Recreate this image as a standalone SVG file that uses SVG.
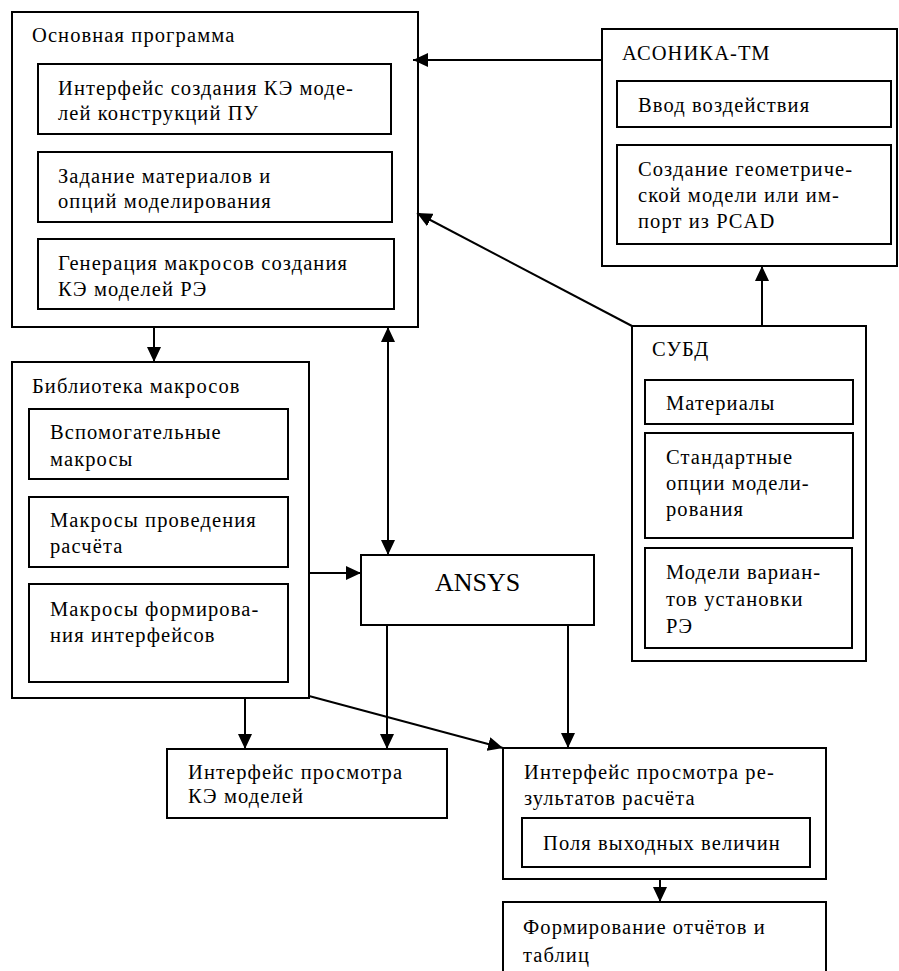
<svg xmlns="http://www.w3.org/2000/svg" width="899" height="971" viewBox="0 0 899 971" font-family="'Liberation Serif', 'Times New Roman', serif">
<defs>
<marker id="arr" markerUnits="userSpaceOnUse" markerWidth="16" markerHeight="14" refX="15" refY="7" orient="auto-start-reverse">
<path d="M0,0 L15,7 L0,14 z" fill="#000"/>
</marker>
<style>
rect{fill:#fff;stroke:#000;stroke-width:2}
text{font-family:'Liberation Serif','Times New Roman',serif;font-size:20.5px;letter-spacing:1.1px;fill:#000}
text.big{font-size:26px;letter-spacing:0}
#connectors line{stroke:#000;stroke-width:2;fill:none}
</style>
</defs>
<rect x="0" y="0" width="899" height="971" style="stroke:none"/>

<g id="main">
<rect x="12" y="12" width="406" height="315"/>
<text x="32" y="42">Основная программа</text>
<rect x="38" y="64" width="353" height="70"/>
<text x="58" y="95">Интерфейс создания КЭ моде-</text>
<text x="58" y="120">лей конструкций ПУ</text>
<rect x="38" y="152" width="354" height="70"/>
<text x="58" y="183">Задание материалов и</text>
<text x="58" y="208">опций моделирования</text>
<rect x="38" y="239" width="356" height="70"/>
<text x="58" y="270">Генерация макросов создания</text>
<text x="58" y="296">КЭ моделей РЭ</text>
</g>

<g id="asonika">
<rect x="602" y="29" width="295" height="237"/>
<text x="622" y="60">АСОНИКА-ТМ</text>
<rect x="617" y="81" width="274" height="46"/>
<text x="638" y="112">Ввод воздействия</text>
<rect x="617" y="145" width="274" height="99"/>
<text x="638" y="176">Создание геометриче-</text>
<text x="638" y="202">ской модели или им-</text>
<text x="638" y="228">порт из PCAD</text>
</g>

<g id="subd">
<rect x="632" y="326" width="234" height="335"/>
<text x="652" y="356">СУБД</text>
<rect x="645" y="380" width="208" height="44"/>
<text x="666" y="410">Материалы</text>
<rect x="645" y="433" width="208" height="105"/>
<text x="666" y="464">Стандартные</text>
<text x="666" y="490">опции модели-</text>
<text x="666" y="516">рования</text>
<rect x="645" y="548" width="207" height="100"/>
<text x="666" y="579">Модели вариан-</text>
<text x="666" y="606">тов установки</text>
<text x="666" y="633">РЭ</text>
</g>

<g id="library">
<rect x="12" y="362" width="297" height="336"/>
<text x="32" y="393">Библиотека макросов</text>
<rect x="29" y="409" width="259" height="70"/>
<text x="50" y="439">Вспомогательные</text>
<text x="50" y="466">макросы</text>
<rect x="29" y="497" width="259" height="70"/>
<text x="50" y="527">Макросы проведения</text>
<text x="50" y="553">расчёта</text>
<rect x="29" y="584" width="259" height="98"/>
<text x="50" y="616">Макросы формирова-</text>
<text x="50" y="642">ния интерфейсов</text>
</g>

<g id="ansys">
<rect x="361" y="555" width="233" height="70"/>
<text class="big" x="477.5" y="591" text-anchor="middle">ANSYS</text>
</g>

<g id="fe-view">
<rect x="167" y="749" width="280" height="69"/>
<text x="188" y="779">Интерфейс просмотра</text>
<text x="188" y="803">КЭ моделей</text>
</g>

<g id="results-view">
<rect x="503" y="748" width="323" height="131"/>
<text x="524" y="779">Интерфейс просмотра ре-</text>
<text x="524" y="805">зультатов расчёта</text>
<rect x="522" y="818" width="288" height="49"/>
<text x="543" y="850">Поля выходных величин</text>
</g>

<g id="reports">
<rect x="503" y="902" width="323" height="80"/>
<text x="523" y="934">Формирование отчётов и</text>
<text x="523" y="962">таблиц</text>
</g>

<g id="connectors">
<line x1="602" y1="60" x2="413" y2="60" marker-end="url(#arr)"/>
<line x1="632" y1="326" x2="417" y2="213" marker-end="url(#arr)"/>
<line x1="762" y1="326" x2="762" y2="266" marker-end="url(#arr)"/>
<line x1="154" y1="327" x2="154" y2="362" marker-end="url(#arr)"/>
<line x1="388" y1="327" x2="388" y2="555" marker-start="url(#arr)" marker-end="url(#arr)"/>
<line x1="309" y1="573" x2="361" y2="573" marker-end="url(#arr)"/>
<line x1="245" y1="698" x2="245" y2="749" marker-end="url(#arr)"/>
<line x1="387" y1="625" x2="387" y2="749" marker-end="url(#arr)"/>
<line x1="309" y1="696" x2="503" y2="748" marker-end="url(#arr)"/>
<line x1="568" y1="625" x2="568" y2="748" marker-end="url(#arr)"/>
<line x1="660" y1="879" x2="660" y2="902" marker-end="url(#arr)"/>
</g>
</svg>
